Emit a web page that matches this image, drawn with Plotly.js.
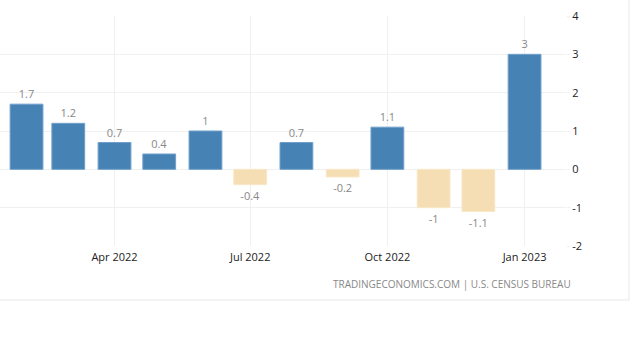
<!DOCTYPE html>
<html>
<head>
<meta charset="utf-8">
<script src="https://cdn.plot.ly/plotly-3.0.1.min.js"></script>
<style>html,body{margin:0;padding:0;background:#fff;}#chart{width:640px;height:344px;}</style>
</head>
<body>
<div id="chart"></div>
<script>
var months = ['2022-02-01','2022-03-01','2022-04-01','2022-05-01','2022-06-01','2022-07-01','2022-08-01','2022-09-01','2022-10-01','2022-11-01','2022-12-01','2023-01-01'];
var values = [1.7, 1.2, 0.7, 0.4, 1, -0.4, 0.7, -0.2, 1.1, -1, -1.1, 3];
var yTicks = [-2, -1, 0, 1, 2, 3, 4];
var sourceText = 'TRADINGECONOMICS.COM | U.S. CENSUS BUREAU';

var posColor = '#4682b4', negColor = '#f5deb3';
var colors = values.map(function(v){ return v >= 0 ? posColor : negColor; });
var lineColors = values.map(function(v){ return v >= 0 ? '#6f9fcb' : '#f8e8c8'; });

var trace = {
  type: 'bar',
  x: months,
  y: values,
  width: 22 * 86400000,
  marker: {color: colors, line: {color: lineColors, width: 1}},
  text: values.map(String),
  textposition: 'outside',
  outsidetextfont: {family: 'Open Sans, sans-serif', size: 11, color: '#888'},
  cliponaxis: false,
  hoverinfo: 'none'
};

var layout = {
  width: 640, height: 344,
  margin: {l: 0, r: 74, t: 16, b: 98},
  paper_bgcolor: '#fff', plot_bgcolor: '#fff',
  showlegend: false,
  bargap: 0,
  xaxis: {
    type: 'date',
    range: ['2022-01-14 05:00', '2023-01-28 19:00'],
    tick0: '2022-01-01', dtick: 'M3',
    tickformat: '%b %Y',
    showgrid: true, gridcolor: '#f0f0f0', gridwidth: 1,
    zeroline: false, showline: false, ticks: '',
    ticklabelstandoff: 3,
    tickfont: {family: 'Open Sans, sans-serif', size: 11, color: '#222'}
  },
  yaxis: {
    side: 'right',
    range: [-2, 4],
    tickvals: yTicks,
    ticktext: yTicks.map(String),
    showgrid: true, gridcolor: '#f0f0f0', gridwidth: 1,
    zeroline: false, showline: false,
    ticks: 'outside', ticklen: 3, tickcolor: '#f0f0f0',
    ticklabelstandoff: 0,
    tickfont: {family: 'Open Sans, sans-serif', size: 11, color: '#222'}
  },
  annotations: [{
    text: sourceText, xref: 'paper', yref: 'paper',
    x: 1.0124, y: -0.165, xanchor: 'right', yanchor: 'middle',
    showarrow: false,
    font: {family: 'Open Sans, sans-serif', size: 10, color: '#888'}
  }],
  shapes: [
    {type: 'line', xref: 'paper', yref: 'paper', x0: 0, x1: 1.1113, y0: -0.2348, y1: -0.2348, line: {color: '#e8e8e8', width: 1}},
    {type: 'line', xref: 'paper', yref: 'paper', x0: 1.1113, x1: 1.1113, y0: -0.2348, y1: 1.0696, line: {color: '#e8e8e8', width: 1}}
  ]
};

Plotly.newPlot('chart', [trace], layout, {displayModeBar: false, staticPlot: true});
</script>
</body>
</html>
